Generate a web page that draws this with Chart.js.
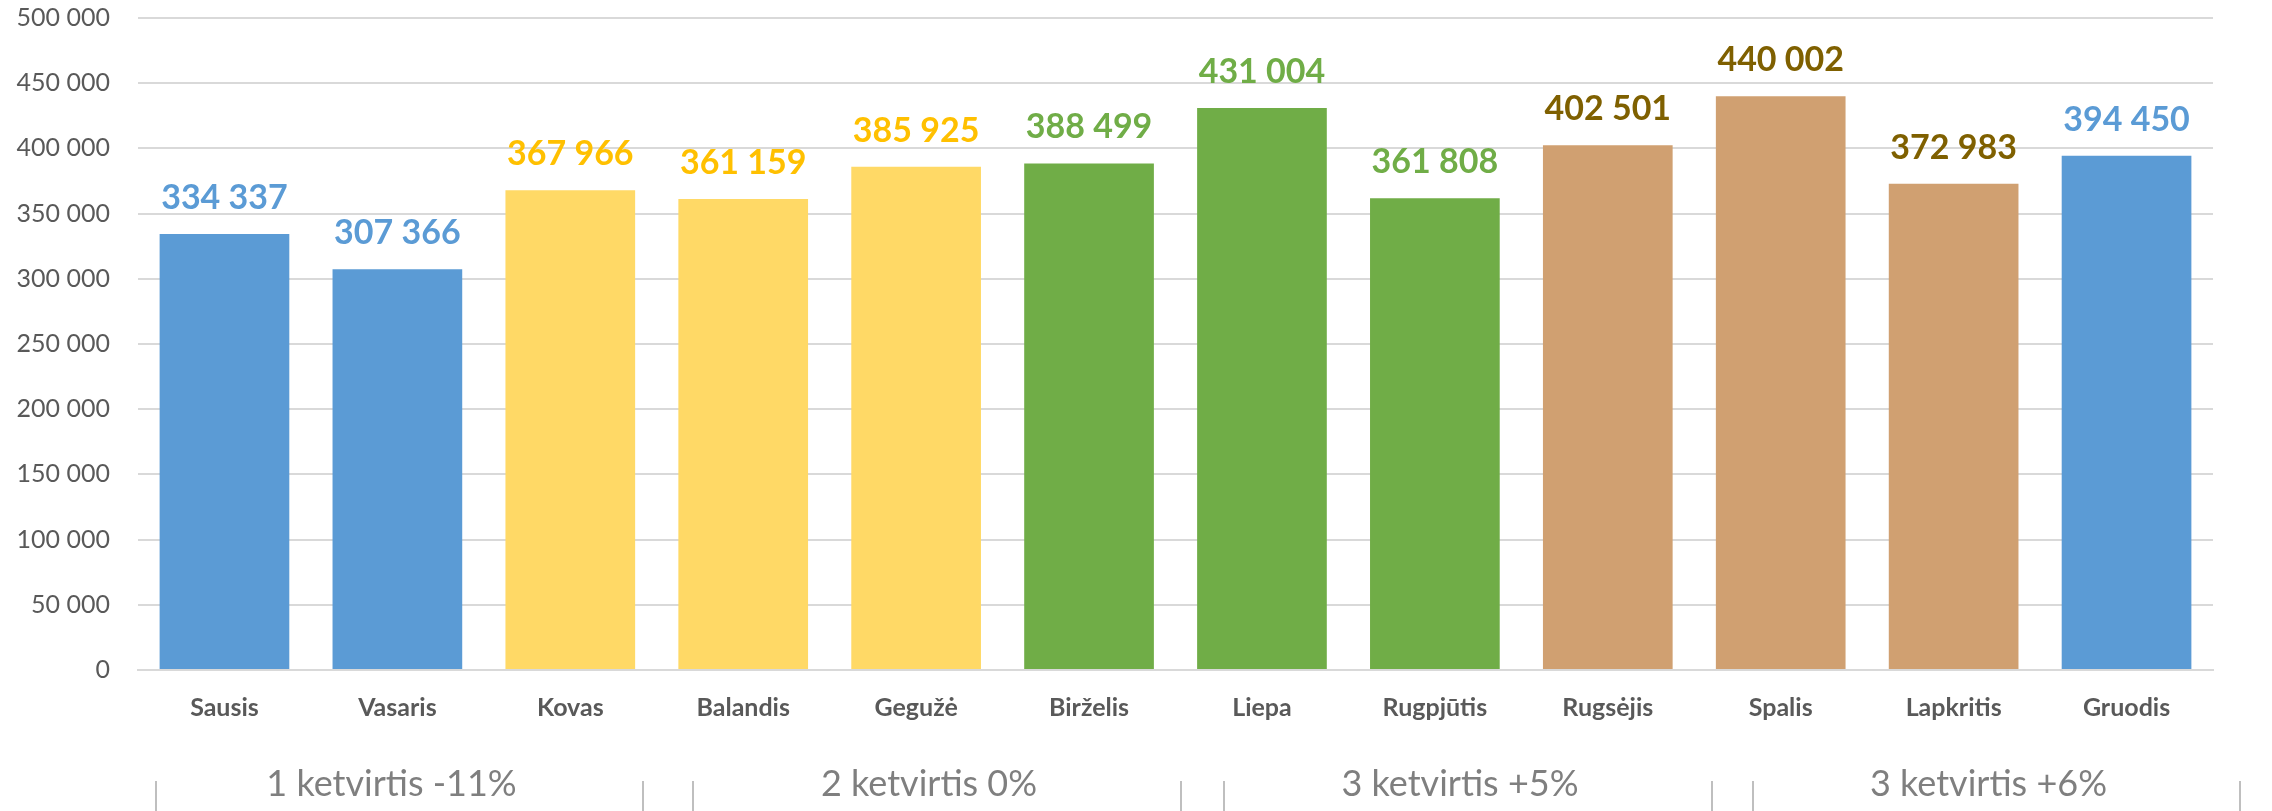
<!DOCTYPE html>
<html>
<head>
<meta charset="utf-8">
<script src="https://cdn.jsdelivr.net/npm/chart.js@4.4.1/dist/chart.umd.min.js"></script>
<style>
  html, body { margin: 0; padding: 0; background: #fff; }
  #wrap { width: 2272px; height: 811px; position: relative; }
</style>
</head>
<body>
<div id="wrap"><canvas id="chart" width="2272" height="811"></canvas></div>
<script>
// data
const months = ['Sausis', 'Vasaris', 'Kovas', 'Balandis', 'Gegužė', 'Birželis', 'Liepa', 'Rugpjūtis', 'Rugsėjis', 'Spalis', 'Lapkritis', 'Gruodis'];
const visitors = [334337, 307366, 367966, 361159, 385925, 388499, 431004, 361808, 402501, 440002, 372983, 394450];
const yTicks = [0, 50000, 100000, 150000, 200000, 250000, 300000, 350000, 400000, 450000, 500000];
const quarterLabels = ['1 ketvirtis -11%', '2 ketvirtis 0%', '3 ketvirtis +5%', '3 ketvirtis +6%'];

// styles
const BLUE = '#5B9BD5', YELLOW = '#FFD966', GREEN = '#70AD47', TAN = '#D0A071';
const barColors = [BLUE, BLUE, YELLOW, YELLOW, YELLOW, GREEN, GREEN, GREEN, TAN, TAN, TAN, BLUE];
const labelColors = ['#5B9BD5', '#5B9BD5', '#FFC000', '#FFC000', '#FFC000', '#70AD47', '#70AD47', '#70AD47', '#7F6000', '#7F6000', '#7F6000', '#5B9BD5'];
// bracket spans under the chart (left, right in px)
const bracketSpans = [[156, 643], [693, 1181], [1224, 1712], [1753, 2240]];

const FONT = 'Lato, "Open Sans", sans-serif';

function fmt(v) {
    return String(v).replace(/\B(?=(\d{3})+(?!\d))/g, ' ');
}

// value labels above the bars
const valueLabels = {
    id: 'valueLabels',
    afterDatasetsDraw(chart) {
        const ctx = chart.ctx;
        const meta = chart.getDatasetMeta(0);
        ctx.save();
        ctx.font = 'bold 34px ' + FONT;
        ctx.textAlign = 'center';
        ctx.textBaseline = 'alphabetic';
        meta.data.forEach((bar, i) => {
            ctx.fillStyle = labelColors[i];
            ctx.fillText(fmt(visitors[i]), bar.x, bar.y - 25);
        });
        ctx.restore();
    }
};

// quarter labels with little vertical lines at the bottom
const quarterBrackets = {
    id: 'quarterBrackets',
    afterDraw(chart) {
        const ctx = chart.ctx;
        const h = chart.height;
        ctx.save();
        ctx.strokeStyle = '#BFBFBF';
        ctx.lineWidth = 2;
        bracketSpans.forEach(([l, r], i) => {
            ctx.beginPath();
            ctx.moveTo(l, 781); ctx.lineTo(l, h);
            ctx.moveTo(r, 781); ctx.lineTo(r, h);
            ctx.stroke();
            ctx.fillStyle = '#7F7F7F';
            ctx.font = '36px ' + FONT;
            ctx.textAlign = 'center';
            ctx.textBaseline = 'middle';
            ctx.fillText(quarterLabels[i], (l + r) / 2 - 8, 784);
        });
        ctx.restore();
    }
};

const ctx = document.getElementById('chart').getContext('2d');
new Chart(ctx, {
    type: 'bar',
    data: {
        labels: months,
        datasets: [{
            data: visitors,
            backgroundColor: barColors,
            borderWidth: 0,
            categoryPercentage: 1,
            barPercentage: 0.75
        }]
    },
    options: {
        responsive: false,
        animation: false,
        layout: { padding: { top: 18, right: 59, left: 0, bottom: 0 } },
        plugins: {
            legend: { display: false },
            tooltip: { enabled: false }
        },
        scales: {
            x: {
                grid: { display: false, drawTicks: false },
                border: { display: true, color: '#D9D9D9', width: 2 },
                ticks: {
                    color: '#595959',
                    font: { family: FONT, size: 25, weight: 'bold' },
                    padding: 23,
                    maxRotation: 0
                },
                afterFit(scale) {
                    scale.height = 141;
                    scale.paddingLeft = 0;
                    scale.paddingRight = 0;
                }
            },
            y: {
                min: 0,
                max: 500000,
                afterBuildTicks(scale) { scale.ticks = yTicks.map(v => ({ value: v })); },
                grid: { color: '#D9D9D9', lineWidth: 2, drawTicks: false },
                border: { display: false },
                ticks: {
                    color: '#595959',
                    font: { family: FONT, size: 25 },
                    padding: 28,
                    callback: v => fmt(v)
                },
                afterFit(scale) {
                    scale.width = 138;
                    scale.paddingTop = 0;
                    scale.paddingBottom = 0;
                }
            }
        }
    },
    plugins: [valueLabels, quarterBrackets]
});
</script>
</body>
</html>
